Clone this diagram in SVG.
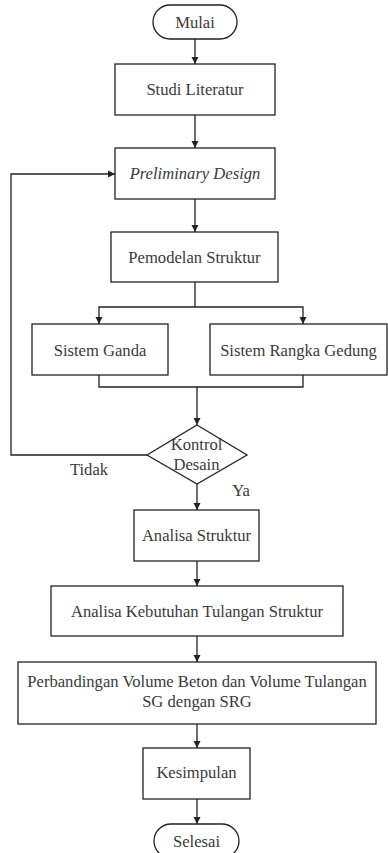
<svg xmlns="http://www.w3.org/2000/svg" width="388" height="853" viewBox="0 0 388 853">
<defs>
<marker id="ah" markerWidth="8" markerHeight="8" refX="7" refY="4" orient="auto" markerUnits="userSpaceOnUse">
<path d="M0,0.5 L7,4 L0,7.5 Z" fill="#222"/>
</marker>
<style>
.n{fill:#fff;stroke:#222;stroke-width:1.3}
.t{font-family:"Liberation Serif","Times New Roman","DejaVu Serif",serif;font-size:16.6px;fill:#3a3a3a;text-anchor:middle}
.c{fill:none;stroke:#222;stroke-width:1.3}
.a{marker-end:url(#ah)}
</style>
</defs>
<rect width="388" height="853" fill="#fff"/>
<g id="connectors">
<line class="c a" x1="195" y1="39" x2="195" y2="64"/>
<line class="c a" x1="195" y1="115" x2="195" y2="148"/>
<line class="c a" x1="195" y1="199" x2="195" y2="232"/>
<polyline class="c" points="195,282 195,307"/>
<polyline class="c a" points="195,307 99,307 99,324"/>
<polyline class="c a" points="195,307 303,307 303,324"/>
<polyline class="c" points="99,375 99,387 303,387 303,375"/>
<line class="c a" x1="197" y1="387" x2="197" y2="425"/>
<polyline class="c a" points="147,455 11,455 11,174 115,174"/>
<line class="c a" x1="197" y1="484" x2="197" y2="510"/>
<line class="c a" x1="197" y1="561" x2="197" y2="586"/>
<line class="c a" x1="197" y1="636" x2="197" y2="662"/>
<line class="c a" x1="197" y1="724" x2="197" y2="748"/>
<line class="c a" x1="197" y1="799" x2="197" y2="824"/>
<text class="t" x="89" y="475">Tidak</text>
<text class="t" x="241" y="496">Ya</text>
</g>
<g id="mulai"><rect class="n" x="153" y="5" width="84" height="34" rx="17"/><text class="t" x="195" y="28">Mulai</text></g>
<g id="studi"><rect class="n" x="115" y="64" width="160" height="51"/><text class="t" x="195" y="95">Studi Literatur</text></g>
<g id="prelim"><rect class="n" x="115" y="148" width="160" height="51"/><text class="t" x="195" y="179" font-style="italic">Preliminary Design</text></g>
<g id="pemodelan"><rect class="n" x="111" y="232" width="167" height="50"/><text class="t" x="194.5" y="263">Pemodelan Struktur</text></g>
<g id="ganda"><rect class="n" x="32" y="324" width="136" height="51"/><text class="t" x="100" y="356">Sistem Ganda</text></g>
<g id="rangka"><rect class="n" x="210" y="324" width="177" height="51"/><text class="t" x="298.5" y="356">Sistem Rangka Gedung</text></g>
<g id="kontrol"><polygon class="n" points="197,425 247,455 197,484 147,455"/><text class="t" x="196.5" y="450">Kontrol</text><text class="t" x="196.5" y="470">Desain</text></g>
<g id="analisa"><rect class="n" x="134" y="510" width="125" height="51"/><text class="t" x="196.5" y="541">Analisa Struktur</text></g>
<g id="kebutuhan"><rect class="n" x="51" y="586" width="292" height="50"/><text class="t" x="197" y="617">Analisa Kebutuhan Tulangan Struktur</text></g>
<g id="perbandingan"><rect class="n" x="18" y="662" width="358" height="62"/><text class="t" x="197" y="687">Perbandingan Volume Beton dan Volume Tulangan</text><text class="t" x="197" y="707">SG dengan SRG</text></g>
<g id="kesimpulan"><rect class="n" x="143" y="748" width="107" height="51"/><text class="t" x="196.5" y="778">Kesimpulan</text></g>
<g id="selesai"><rect class="n" x="154" y="824" width="85" height="34" rx="17"/><text class="t" x="196.5" y="847">Selesai</text></g>
</svg>
